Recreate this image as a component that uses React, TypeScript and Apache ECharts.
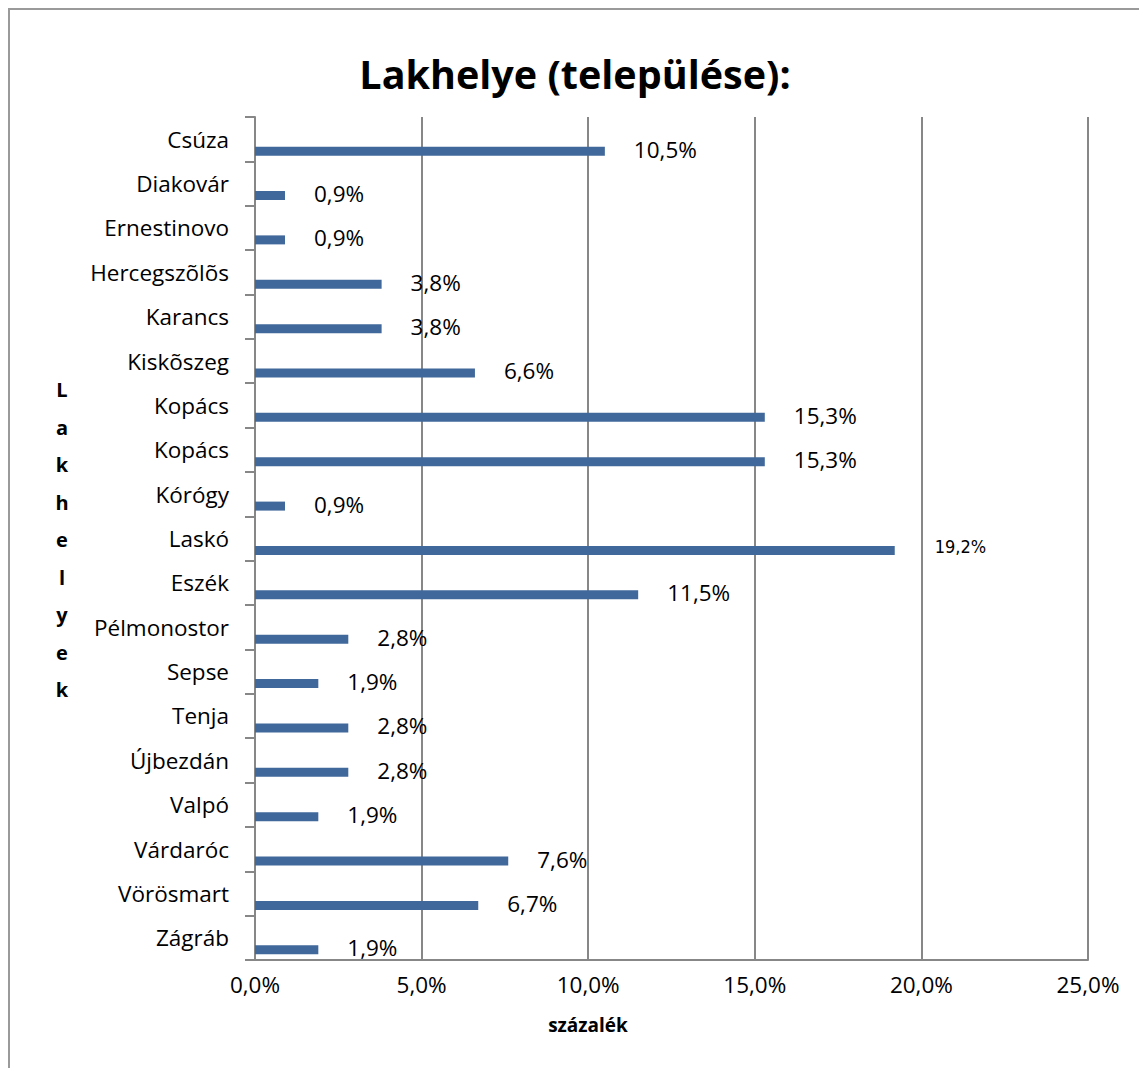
import React, { useEffect, useRef } from "react";
import * as echarts from "echarts";

const categories = [
  "Csúza", "Diakovár", "Ernestinovo", "Hercegszõlõs", "Karancs", "Kiskõszeg",
  "Kopács", "Kopács", "Kórógy", "Laskó", "Eszék", "Pélmonostor", "Sepse",
  "Tenja", "Újbezdán", "Valpó", "Várdaróc", "Vörösmart", "Zágráb",
];
const values = [10.5, 0.9, 0.9, 3.8, 3.8, 6.6, 15.3, 15.3, 0.9, 19.2, 11.5, 2.8, 1.9, 2.8, 2.8, 1.9, 7.6, 6.7, 1.9];
const xMin = 0;
const xMax = 25;
const xInterval = 5;
const titleText = "Lakhelye (települése):";
const xAxisName = "százalék";
const yAxisName = "Lakhelyek";

const FONT = "'Open Sans', Lato, sans-serif";
const fmt = (v: number) => v.toFixed(1).replace(".", ",") + "%";

export default function App() {
  const ref = useRef<HTMLDivElement>(null);
  useEffect(() => {
    document.documentElement.style.overflow = "hidden";
    const chart = echarts.init(ref.current!, null, { renderer: "svg" });
    const grey = "#878787";
    chart.setOption({
      animation: false,
      backgroundColor: "#fff",
      textStyle: { fontFamily: FONT },
      grid: { left: 247, top: 109, width: 833, height: 843, containLabel: false },
      graphic: [
        {
          type: "rect",
          shape: { x: 1, y: 1, width: 3000, height: 3000 },
          style: { fill: "none", stroke: "#9a9a9a", lineWidth: 2 },
          silent: true,
        },
        {
          type: "text",
          x: 567,
          y: 66,
          style: {
            text: titleText,
            font: `bold 39.5px ${FONT}`,
            fill: "#000",
            align: "center",
            verticalAlign: "middle",
          },
        },
        {
          type: "text",
          x: 580,
          y: 1017,
          style: {
            text: xAxisName,
            font: `bold 19px ${FONT}`,
            fill: "#000",
            align: "center",
            verticalAlign: "middle",
          },
        },
        {
          type: "text",
          x: 54,
          y: 363,
          style: {
            text: yAxisName.split("").join("\n"),
            font: `bold 20px ${FONT}`,
            lineHeight: 37.5,
            fill: "#000",
            align: "center",
            verticalAlign: "top",
          },
        },
      ],
      xAxis: {
        type: "value",
        min: xMin,
        max: xMax,
        interval: xInterval,
        axisLine: { show: true, lineStyle: { color: grey, width: 2 } },
        axisTick: { show: false },
        axisLabel: { formatter: (v: number) => fmt(v), fontSize: 22.5, color: "#000", margin: 13, fontFamily: FONT },
        splitLine: { show: true, lineStyle: { color: grey, width: 2 } },
      },
      yAxis: {
        type: "category",
        inverse: true,
        data: categories.map((_, i) => String(i)),
        axisLine: { show: true, lineStyle: { color: grey, width: 2 } },
        axisTick: { show: true, length: 10, lineStyle: { color: grey, width: 2 } },
        axisLabel: {
          formatter: (v: string) => categories[Number(v)],
          fontSize: 22.5,
          color: "#000",
          margin: 26,
          fontFamily: FONT,
        },
        splitLine: { show: false },
      },
      series: [
        {
          type: "bar",
          data: categories.map(() => 0),
          barWidth: 9,
          barGap: "166%",
          itemStyle: { opacity: 0 },
          silent: true,
        },
        {
          type: "bar",
          barWidth: 9,
          barGap: "166%",
          data: values.map((v) =>
            v === 19.2
              ? { value: v, label: { fontSize: 18, distance: 40, offset: [0, -4], fontFamily: "'Liberation Sans Narrow', 'DejaVu Sans Condensed', sans-serif" } }
              : v
          ),
          itemStyle: { color: "#41689a" },
          label: {
            show: true,
            position: "right",
            distance: 29,
            offset: [0, -2],
            fontSize: 22.5,
            color: "#000",
            fontFamily: FONT,
            formatter: (p: any) => fmt(p.value),
          },
        },
      ],
    });
    return () => chart.dispose();
  }, []);
  return <div ref={ref} style={{ width: 1139, height: 1060 }} />;
}
